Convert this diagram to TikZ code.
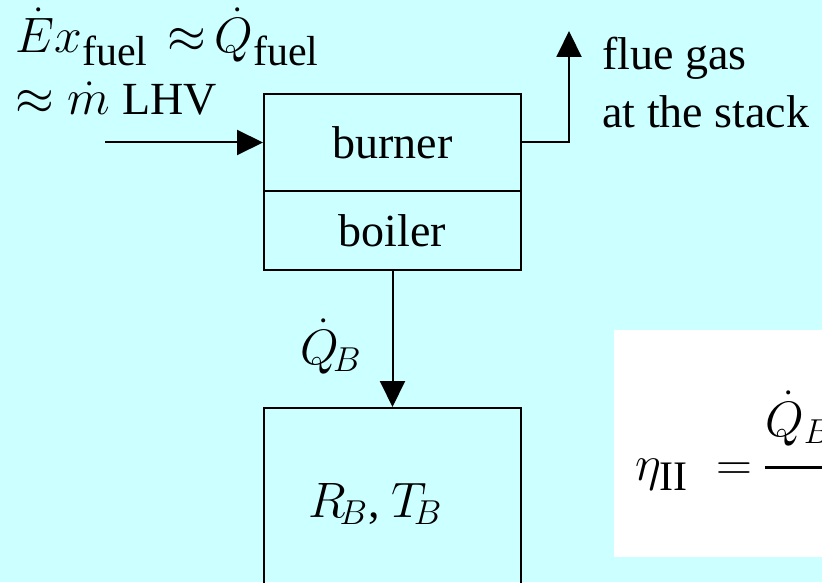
\documentclass[tikz,border=0pt]{standalone}
\usepackage{fontspec}
\setmainfont{Liberation Serif}
\usetikzlibrary{arrows.meta}
\definecolor{bgcyan}{RGB}{204,255,255}
\newcommand{\bigsub}[1]{\mbox{\fontsize{21}{21}\selectfont #1}}
\begin{document}
\begin{tikzpicture}[x=0.5pt,y=-0.5pt,
  box/.style={draw=black, line width=1pt, inner sep=0pt, minimum width=128.5pt},
  arr/.style={line width=1pt, -{Triangle[length=13pt,width=12.5pt]}},
  every node/.style={font=\fontsize{23}{28}\selectfont},
  lbl/.style={inner sep=0pt, anchor=base west}]
\path[use as bounding box] (0,0) rectangle (822,582);
\clip (0,0) rectangle (822,582);
\fill[bgcyan] (0,0) rectangle (822,582);
% boxes
\node[box, minimum height=48.5pt] (burner) at (392.5,142.5) {burner};
\node[box, minimum height=39.5pt] (boiler) at (392.5,230.5) {boiler};
\node[box, minimum height=150pt, anchor=north] (res) at (392.5,407) {};
\node[fill=white, inner sep=0pt, minimum width=150pt, minimum height=113.5pt, anchor=north west] (wbox) at (614,330) {};
% texts
\node[lbl] (ex1) at (15,53) {$\dot{E}x_{\bigsub{fuel}}\mkern2mu\approx\mkern-2mu\dot{Q}_{\bigsub{fuel}}$};
\node[lbl] (ex2) at (15,115) {$\approx \dot{m}$ LHV};
\node[lbl] (flue1) at (602,70) {flue gas};
\node[lbl] (flue2) at (602,128) {at the stack};
\node[lbl] (qb) at (300,364) {$\dot{Q}_{\!B}$};
\node[lbl] (rt) at (308,517) {$R_{\!B}$, $T_{\!B}$};
\node[lbl] (eta) at (635,480) {$\displaystyle\eta_{\bigsub{II}}\mkern5mu=\mkern-1mu{\raisebox{5pt}{$\dot{Q}_B$}\hspace{4em}\above 1.5pt\hspace{4em}}$};
% connectors
\coordinate (fin) at (105,142.5);
\coordinate (fluetop) at (569,31);
\draw[arr] (fin) -- (burner.west);
\draw[arr] (burner.east) -| (fluetop);
\draw[arr] (boiler.south) -- (res.north);
\end{tikzpicture}
\end{document}
